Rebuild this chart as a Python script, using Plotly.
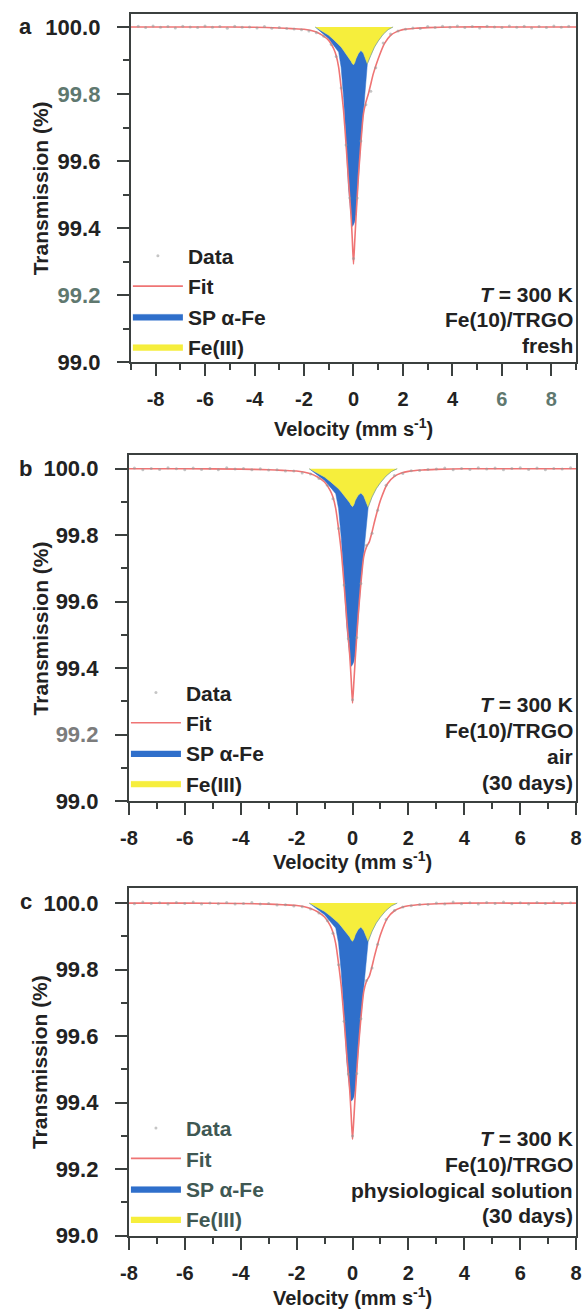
import plotly.graph_objects as go

W, H = 588, 1316
FONT = "Liberation Sans, Arial, sans-serif"
INK = "#222222"
FRAME = "#3b403f"
RED = "#ef7474"
BLUE = "#2f6fcb"
YELLOW = "#f6ee3c"
GRAYGREEN = "#5f786f"

# ---------------- data ----------------
panel_letters = ["a", "b", "c"]
sample_lines_a = ["<i>T</i> = 300 K", "Fe(10)/TRGO", "fresh"]
sample_lines_b = ["<i>T</i> = 300 K", "Fe(10)/TRGO", "air", "(30 days)"]
sample_lines_c = ["<i>T</i> = 300 K", "Fe(10)/TRGO", "physiological solution", "(30 days)"]
series_names = ["Data", "Fit", "SP α-Fe", "Fe(III)"]

y_tick_values = [99.0, 99.2, 99.4, 99.6, 99.8, 100.0]
y_tick_labels = ["99.0", "99.2", "99.4", "99.6", "99.8", "100.0"]
x_tick_values = [-8, -6, -4, -2, 0, 2, 4, 6, 8]
x_tick_labels = ["-8", "-6", "-4", "-2", "0", "2", "4", "6", "8"]

# fitted total spectrum
velocity_fit = [-9.0, -6.0, -4.0, -3.0, -2.5, -2.0, -1.75, -1.5, -1.25, -1.0, -0.8, -0.7,
                -0.6, -0.5, -0.4, -0.3, -0.2, -0.1, -0.05, 0.0, 0.05, 0.1, 0.2, 0.3, 0.4,
                0.5, 0.6, 0.7, 0.8, 1.0, 1.25, 1.5, 1.75, 2.0, 2.5, 3.0, 4.0, 6.0, 9.0]
fit_a = [100.0, 100.0, 99.999, 99.997, 99.995, 99.993, 99.990, 99.985, 99.975, 99.960, 99.935, 99.915,
         99.880, 99.820, 99.750, 99.650, 99.540, 99.440, 99.370, 99.293, 99.360, 99.430, 99.555, 99.655, 99.740,
         99.775, 99.800, 99.830, 99.860, 99.905, 99.950, 99.975, 99.986, 99.992, 99.996, 99.998, 100.0, 100.0, 100.0]
fit_b = [100.0, 100.0, 99.999, 99.997, 99.995, 99.993, 99.990, 99.985, 99.975, 99.960, 99.935, 99.915,
         99.880, 99.820, 99.750, 99.650, 99.540, 99.440, 99.370, 99.295, 99.360, 99.430, 99.555, 99.655, 99.735,
         99.765, 99.780, 99.810, 99.845, 99.905, 99.955, 99.977, 99.987, 99.992, 99.996, 99.998, 100.0, 100.0, 100.0]
fit_c = [100.0, 100.0, 99.999, 99.997, 99.995, 99.993, 99.990, 99.984, 99.974, 99.958, 99.933, 99.912,
         99.878, 99.818, 99.748, 99.648, 99.538, 99.438, 99.365, 99.290, 99.355, 99.428, 99.553, 99.653, 99.733,
         99.765, 99.780, 99.810, 99.845, 99.905, 99.955, 99.977, 99.987, 99.992, 99.996, 99.998, 100.0, 100.0, 100.0]

# sub-spectra (lower edges of the stacked filled areas)
velocity_comp = [-1.55, -1.4, -1.2, -1.0, -0.8, -0.6, -0.5, -0.4, -0.3, -0.2, -0.1, -0.05, 0.0,
                 0.05, 0.1, 0.2, 0.3, 0.4, 0.5, 0.56, 0.7, 0.85, 1.0, 1.2, 1.4, 1.6]
fe3_a = [100.0, 99.993, 99.985, 99.975, 99.962, 99.948, 99.940, 99.930, 99.920, 99.910, 99.898, 99.891, 99.887,
         99.893, 99.905, 99.921, 99.930, 99.922, 99.900, 99.890, 99.915, 99.940, 99.958, 99.978, 99.992, 100.0]
sp_a = [100.0, 99.990, 99.978, 99.965, 99.945, 99.925, 99.880, 99.790, 99.660, 99.520, 99.440, 99.405, 99.410,
        99.420, 99.440, 99.560, 99.660, 99.745, 99.830, 99.890, 99.915, 99.940, 99.958, 99.978, 99.992, 100.0]
fe3_b = [100.0, 99.993, 99.985, 99.975, 99.962, 99.948, 99.940, 99.930, 99.920, 99.910, 99.898, 99.890, 99.886,
         99.892, 99.905, 99.920, 99.927, 99.918, 99.895, 99.884, 99.915, 99.940, 99.958, 99.978, 99.992, 100.0]
sp_b = [100.0, 99.990, 99.978, 99.965, 99.945, 99.925, 99.880, 99.790, 99.660, 99.520, 99.440, 99.405, 99.410,
        99.420, 99.440, 99.560, 99.660, 99.745, 99.830, 99.884, 99.915, 99.940, 99.958, 99.978, 99.992, 100.0]
fe3_c = [100.0, 99.993, 99.985, 99.975, 99.962, 99.948, 99.940, 99.930, 99.920, 99.910, 99.898, 99.890, 99.885,
         99.892, 99.905, 99.921, 99.928, 99.918, 99.895, 99.885, 99.915, 99.940, 99.958, 99.978, 99.992, 100.0]
sp_c = [100.0, 99.990, 99.978, 99.965, 99.945, 99.925, 99.880, 99.790, 99.660, 99.520, 99.440, 99.405, 99.408,
        99.418, 99.440, 99.560, 99.660, 99.745, 99.830, 99.885, 99.915, 99.940, 99.958, 99.978, 99.992, 100.0]

# measured points
velocity_data = [-8.7, -8.4, -8.1, -7.8, -7.5, -7.2, -6.9, -6.6, -6.3, -6.0, -5.7, -5.4, -5.1, -4.8, -4.5,
                 -4.2, -3.9, -3.6, -3.3, -3.0, -2.7, -2.4, -2.1, -1.8, -1.5, -1.2,
                 -0.9, -0.7, -0.5, -0.3, -0.15, 0.0, 0.15, 0.3, 0.5, 0.7, 0.9,
                 1.2, 1.5, 1.8, 2.1, 2.4, 2.7, 3.0, 3.3, 3.6, 3.9, 4.2, 4.5, 4.8, 5.1, 5.4, 5.7,
                 6.0, 6.3, 6.6, 6.9, 7.2, 7.5, 7.8, 8.1, 8.4, 8.7]
data_a = [100.002, 99.998, 100.003, 99.999, 100.001, 99.997, 100.002, 100.000, 99.998, 100.003, 99.999, 100.001,
          99.996, 100.002, 99.999, 100.000, 99.997, 100.001, 99.996, 99.998, 99.995, 99.994, 99.992, 99.988,
          99.983, 99.972,
          99.948, 99.912, 99.818, 99.648, 99.490, 99.310, 99.490, 99.660, 99.768, 99.808, 99.878,
          99.952, 99.979, 99.988, 99.993, 99.997, 99.995, 100.001, 99.998, 100.002, 99.999, 100.003, 99.998,
          100.001, 99.997, 100.002, 100.000, 99.998, 100.003, 99.999, 100.002, 99.997, 100.001, 99.998, 100.003,
          99.999, 100.002]
data_b = [99.998, 100.003, 99.999, 100.002, 99.997, 100.001, 99.998, 100.003, 100.000, 99.997, 100.002, 99.998,
          100.001, 99.997, 100.003, 99.999, 100.001, 99.997, 100.000, 99.996, 99.997, 99.993, 99.993, 99.987,
          99.984, 99.971,
          99.950, 99.910, 99.820, 99.650, 99.488, 99.305, 99.492, 99.655, 99.770, 99.806, 99.875,
          99.950, 99.980, 99.986, 99.994, 99.995, 99.998, 99.999, 100.002, 99.997, 100.001, 99.998, 100.003,
          99.999, 100.002, 99.997, 100.001, 100.003, 99.998, 100.002, 99.997, 100.001, 99.999, 100.003, 99.998,
          100.001, 99.997]
data_c = [100.001, 99.997, 100.002, 99.998, 100.003, 99.999, 100.001, 99.997, 100.002, 99.999, 100.003, 99.997,
          100.000, 99.998, 100.002, 99.997, 99.999, 100.002, 99.997, 99.999, 99.994, 99.995, 99.991, 99.989,
          99.982, 99.970,
          99.947, 99.909, 99.815, 99.645, 99.486, 99.300, 99.488, 99.652, 99.767, 99.805, 99.876,
          99.951, 99.978, 99.988, 99.992, 99.996, 99.996, 100.000, 99.997, 100.003, 99.998, 100.001, 99.997,
          100.002, 99.999, 100.003, 99.998, 100.001, 99.997, 100.002, 99.999, 100.003, 99.998, 100.001, 99.997,
          100.002, 100.000]

# ---------------- layout helpers ----------------
def px(x):
    return x / W

def py(y):
    return 1 - y / H

panels = [
    dict(letter="a", fit=fit_a, fe3=fe3_a, sp=sp_a, data=data_a, lines=sample_lines_a,
         left=125, right=582, top=14, bottom=366, xr=[-9, 9], ytop=100.039,
         legend_top=238, text_y=[297, 323, 349], xtitle_off=66, leg_col=INK,
         ylab_col={"99.8": GRAYGREEN, "99.2": GRAYGREEN}, xlab_col={"6": GRAYGREEN, "8": GRAYGREEN}),
    dict(letter="b", fit=fit_b, fe3=fe3_b, sp=sp_b, data=data_b, lines=sample_lines_b,
         left=123, right=582, top=460, bottom=809, xr=[-8, 8], ytop=100.04,
         legend_top=679, text_y=[712, 738, 764, 790], xtitle_off=60, leg_col=INK,
         ylab_col={"99.2": "#7c7c7c"}, xlab_col={}),
    dict(letter="c", fit=fit_c, fe3=fe3_c, sp=sp_c, data=data_c, lines=sample_lines_c,
         left=123, right=582, top=897, bottom=1248, xr=[-8, 8], ytop=100.045,
         legend_top=1119, text_y=[1150, 1176, 1202, 1228], xtitle_off=61, leg_col="#3f5853",
         ylab_col={}, xlab_col={}),
]


def colored(labels, colors):
    out = []
    for lab in labels:
        if lab in colors:
            out.append(f"<span style='color:{colors[lab]}'>{lab}</span>")
        else:
            out.append(lab)
    return out


fig = go.Figure()
layout = dict(width=W, height=H, margin=dict(l=0, r=0, t=0, b=0),
              paper_bgcolor="white", plot_bgcolor="white", showlegend=True)
annotations = []

for i, p in enumerate(panels):
    n = "" if i == 0 else str(i + 1)
    xa, ya = "x" + n, "y" + n
    leg = "legend" + n

    # Fe(III) area (from baseline down to its lower edge)
    fig.add_trace(go.Scatter(x=velocity_comp, y=p["fe3"], xaxis=xa, yaxis=ya, mode="lines",
                             fill="toself", fillcolor=YELLOW, line=dict(color=YELLOW, width=0.5),
                             name=series_names[3], legend=leg, hoverinfo="skip"))
    # SP alpha-Fe area stacked below
    fig.add_trace(go.Scatter(x=velocity_comp, y=p["sp"], xaxis=xa, yaxis=ya, mode="lines",
                             fill="tonexty", fillcolor=BLUE, line=dict(color=BLUE, width=0.5),
                             name=series_names[2], legend=leg, hoverinfo="skip"))
    # fit
    fig.add_trace(go.Scatter(x=velocity_fit, y=p["fit"], xaxis=xa, yaxis=ya, mode="lines",
                             line=dict(color=RED, width=1.6, shape="spline", smoothing=0.6),
                             name=series_names[1], legend=leg))
    # data
    fig.add_trace(go.Scatter(x=velocity_data, y=p["data"], xaxis=xa, yaxis=ya, mode="markers",
                             marker=dict(color="rgba(150,150,150,0.55)", size=3),
                             name=series_names[0], legend=leg))

    axis_common = dict(showline=True, linecolor=FRAME, linewidth=2, mirror=True, showgrid=False,
                       zeroline=False, ticks="outside", tickcolor=FRAME, tickwidth=2, ticklen=12)
    layout["xaxis" + n] = dict(axis_common, domain=[px(p["left"]), px(p["right"])], range=p["xr"],
                               anchor=ya, tickvals=x_tick_values,
                               ticktext=colored(x_tick_labels, p["xlab_col"]),
                               tickfont=dict(family=FONT, size=20, color=INK, weight="bold"),
                               ticklabelstandoff=6,
                               minor=dict(dtick=1, tick0=1, ticks="outside", ticklen=6,
                                          tickwidth=2, tickcolor=FRAME))
    layout["yaxis" + n] = dict(axis_common, domain=[py(p["bottom"]), py(p["top"])],
                               range=[99.0, p["ytop"]], anchor=xa,
                               tickvals=y_tick_values,
                               ticktext=colored(y_tick_labels, p["ylab_col"]),
                               tickfont=dict(family=FONT, size=22, color=INK, weight="bold"),
                               ticklabelstandoff=12,
                               minor=dict(dtick=0.1, tick0=99.0, ticks="outside", ticklen=6,
                                          tickwidth=2, tickcolor=FRAME))
    layout[leg] = dict(x=px(p["left"] - 3), y=py(p["legend_top"]), xanchor="left", yanchor="top",
                       traceorder="reversed", itemwidth=50, bgcolor="rgba(0,0,0,0)",
                       font=dict(family=FONT, size=21, color=p["leg_col"], weight="bold"))

    # panel letter
    annotations.append(dict(text=f"<b>{p['letter']}</b>", x=px(17), y=py(p["top"] + 13),
                            xref="paper", yref="paper", showarrow=False, xanchor="center", yanchor="middle",
                            font=dict(family=FONT, size=22, color=INK)))
    # y axis title
    annotations.append(dict(text="<b>Transmission (%)</b>", x=px(32), y=py((p["top"] + p["bottom"]) / 2),
                            xref="paper", yref="paper", showarrow=False, textangle=-90,
                            xanchor="center", yanchor="middle", font=dict(family=FONT, size=21, color=INK)))
    # x axis title
    annotations.append(dict(text="<b>Velocity (mm s<sup>-1</sup>)</b>", x=px((p["left"] + p["right"]) / 2),
                            y=py(p["bottom"] + p["xtitle_off"]), xref="paper", yref="paper", showarrow=False,
                            xanchor="center", yanchor="middle", font=dict(family=FONT, size=20, color=INK)))
    # sample description
    for line, yy in zip(p["lines"], p["text_y"]):
        annotations.append(dict(text=f"<b>{line}</b>", x=px(581), y=py(yy), xref="paper", yref="paper",
                                showarrow=False, xanchor="right", yanchor="middle",
                                font=dict(family=FONT, size=21, color=INK)))

layout["annotations"] = annotations
fig.update_layout(**layout)
fig.write_html("out.html")
